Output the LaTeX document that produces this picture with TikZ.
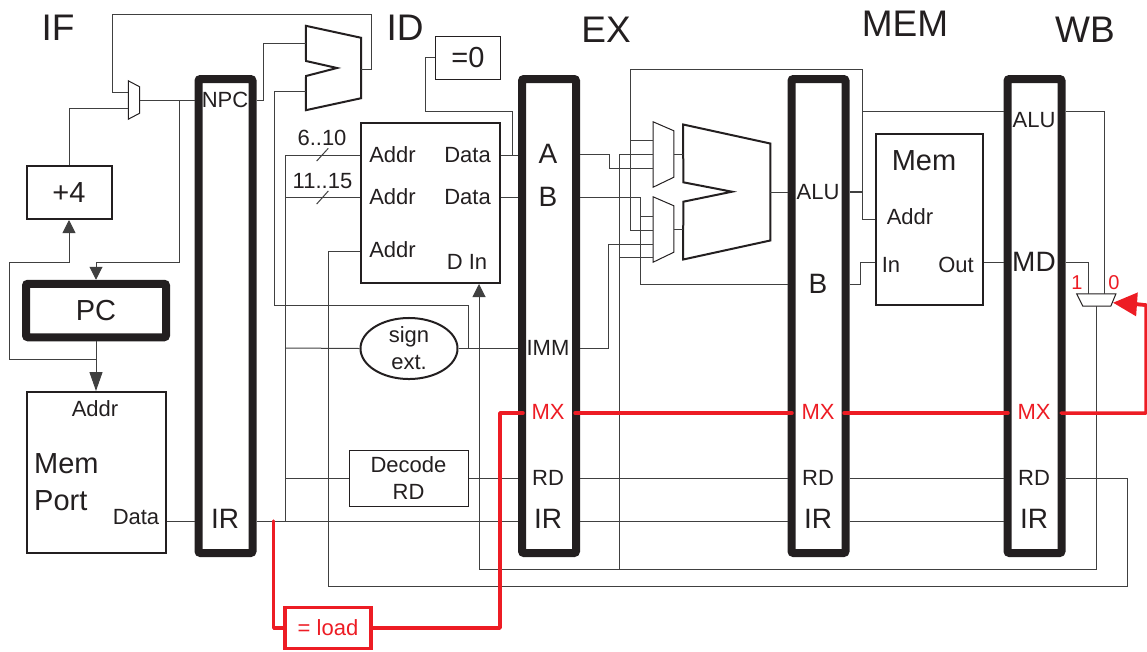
\documentclass[tikz,border=0pt]{standalone}
\usepackage{fontspec}
\setmainfont{Liberation Sans}
\definecolor{inkdark}{HTML}{231F20}
\definecolor{wirecol}{HTML}{404040}
\definecolor{redsig}{HTML}{ED1C24}
\usetikzlibrary{shapes.geometric,arrows.meta,positioning}

\begin{document}
\begin{tikzpicture}[
    x=1pt, y=-1pt,
    every node/.style={text=inkdark, inner sep=0pt},
    small/.style={font=\fontsize{22}{27}\selectfont, align=center},
    big/.style={font=\fontsize{28}{37}\selectfont, align=left},
    stage/.style={font=\fontsize{37}{37}\selectfont},
    latch/.style={rectangle, draw=inkdark, line width=8pt, rounded corners=2pt, minimum width=54pt, minimum height=474pt},
    box/.style={rectangle, draw=inkdark, line width=2pt},
    thinbox/.style={rectangle, draw=inkdark, line width=1pt},
    port/.style={rectangle, minimum width=#1},
    wire/.style={wirecol, line width=1pt},
    arrow/.style={wirecol, line width=1pt, -{Triangle[length=13pt,width=13pt]}},
    longarrow/.style={wirecol, line width=1pt, -{Triangle[length=19pt,width=13pt]}},
    shapeline/.style={inkdark, line width=2pt, line join=miter},
    muxline/.style={inkdark, line width=1pt},
    redwire/.style={redsig, line width=3.5pt, line cap=round, line join=round},
    redbox/.style={rectangle, draw=redsig, text=redsig, line width=3.5pt}
    ]
    \useasboundingbox (0,0) rectangle (1147,651);

    \node[stage] (ifLabel) at (58,28) {IF};
    \node[stage] (idLabel) at (405,28) {ID};
    \node[stage] (exLabel) at (606,30) {EX};
    \node[stage] (memLabel) at (905,24) {MEM};
    \node[stage] (wbLabel) at (1085,30) {WB};

    \node[latch] (ifid) at (225.5,316) {};
    \node[latch] (idex) at (549,316) {};
    \node[latch] (exmem) at (818.5,316) {};
    \node[latch] (memwb) at (1034.5,316) {};

    \node[box, minimum width=85pt, minimum height=53pt] (plusFour) at (69,192.5) {\fontsize{29}{29}\selectfont +4};
    \node[rectangle, draw=inkdark, line width=8pt, rounded corners=2pt, minimum width=140pt, minimum height=53.5pt] (pc) at (96,310.5) {\fontsize{29}{29}\selectfont PC};
    \node[box, minimum width=139pt, minimum height=161pt] (memPort) at (96,472.5) {};
    \node[small] (mpAddr) at (95,409) {Addr};
    \node[font=\fontsize{29}{37}\selectfont, align=left, anchor=west] (mpName) at (34,482) {Mem\\Port};
    \node[small] (mpData) at (136,517) {Data};
    \node[small] (npc) at (225,100) {NPC};
    \node[big] (irOne) at (225,519) {IR};

    \node[thinbox, minimum width=65pt, minimum height=43pt, font=\fontsize{29}{29}\selectfont] (isZero) at (468,57.5) {=0};
    \node[box, minimum width=139pt, minimum height=160pt] (regFile) at (430.5,203) {};
    \node[small] (rfAddrA) at (392.5,155) {Addr};
    \node[small] (rfAddrB) at (392.5,197) {Addr};
    \node[small] (rfAddrC) at (392.5,250) {Addr};
    \node[small] (rfDataA) at (467.5,155) {Data};
    \node[small] (rfDataB) at (467.5,197) {Data};
    \node[small] (rfDin) at (467,262) {D In};
    \node[small] (bitsA) at (322,138) {6..10};
    \node[small] (bitsB) at (322.5,181) {11..15};
    \node[ellipse, draw=inkdark, line width=2pt, minimum width=97pt, minimum height=59pt, small] (signExt) at (409,348.5) {sign\\ext.};
    \node[thinbox, minimum width=119pt, minimum height=56pt, small] (decode) at (408.5,478) {Decode\\RD};

    \node[big] (regA) at (548,154) {A};
    \node[big] (regB) at (548,197) {B};
    \node[small] (regImm) at (548,348) {IMM};
    \node[small, text=redsig] (mxOne) at (548,412) {MX};
    \node[small] (rdOne) at (548,478) {RD};
    \node[big] (irTwo) at (548,519) {IR};

    \node[small] (aluOut) at (818,192) {ALU};
    \node[big] (regBtwo) at (818,284) {B};
    \node[small, text=redsig] (mxTwo) at (818,412) {MX};
    \node[small] (rdTwo) at (818,478) {RD};
    \node[big] (irThree) at (818,519) {IR};

    \node[box, minimum width=107pt, minimum height=171pt] (dataMem) at (929.5,219.5) {};
    \node[font=\fontsize{29}{29}\selectfont] (dmName) at (924,161) {Mem};
    \node[small] (dmAddr) at (910,217) {Addr};
    \node[small] (dmIn) at (891,265) {In};
    \node[small] (dmOut) at (956,265) {Out};

    \node[small] (aluWb) at (1034,120) {ALU};
    \node[big] (mdWb) at (1034,262) {MD};
    \node[small, text=redsig] (mxThree) at (1034,412) {MX};
    \node[small] (rdThree) at (1034,478) {RD};
    \node[big] (irFour) at (1034,519) {IR};

    \node[small, text=redsig, font=\fontsize{20}{20}\selectfont] (wbOne) at (1077,283) {1};
    \node[small, text=redsig, font=\fontsize{20}{20}\selectfont] (wbZero) at (1114,283) {0};
    \node[redbox, minimum width=86pt, minimum height=41pt, font=\fontsize{22}{22}\selectfont] (isLoad) at (328,628) {= load};

    % outlines of the muxes and adders
    \node[port=11pt, minimum height=38pt] (ifMux) at (134,100) {};
    \draw[muxline] (ifMux.north west) -- ([yshift=-6pt]ifMux.north east) -- ([yshift=6pt]ifMux.south east) -- (ifMux.south west) -- cycle;
    \node[port=55pt, minimum height=84pt] (brAdd) at (333.5,68) {};
    \draw[shapeline] (brAdd.north west) -- ([yshift=-12pt]brAdd.north east) -- ([yshift=12pt]brAdd.south east) -- (brAdd.south west) -- (306,76) -- (337,68) -- (306,61) -- cycle;
    \node[port=20.4pt, minimum height=65pt] (muxA) at (663.5,154.5) {};
    \draw[muxline] (muxA.north west) -- ([yshift=-9pt]muxA.north east) -- ([yshift=10pt]muxA.south east) -- (muxA.south west) -- cycle;
    \node[port=20.4pt, minimum height=65pt] (muxB) at (663.5,229.5) {};
    \draw[muxline] (muxB.north west) -- ([yshift=-9pt]muxB.north east) -- ([yshift=10pt]muxB.south east) -- (muxB.south west) -- cycle;
    \node[port=86.7pt, minimum height=134.6pt] (alu) at (726.7,192) {};
    \draw[shapeline] (alu.north west) -- ([yshift=-19pt]alu.north east) -- ([yshift=19pt]alu.south east) -- (alu.south west) -- (683.3,201.7) -- (732,191.7) -- (683.3,182.3) -- cycle;
    \node[port=38.7pt, minimum height=11.7pt] (wbMux) at (1096.3,300) {};
    \draw[muxline] (wbMux.north west) -- (wbMux.north east) -- ([xshift=-5pt]wbMux.south east) -- ([xshift=6pt]wbMux.south west) -- cycle;

    % IF stage
    \coordinate (npcTap) at (179.5,100);
    \coordinate (pcTap) at (96,359);
    \draw[wire] (ifMux.east) -- (ifid.west |- ifMux.east);
    \draw[wire] (ifMux.west |- 0,92) -| (112,14) -| (371,69) -- (brAdd.east |- 0,69);
    \draw[wire] (ifMux.west |- 0,108) -| (plusFour.north);
    \draw[arrow] (npcTap) |- (96,262) -- (pc.north);
    \draw[arrow] (pcTap) -| (9.5,262) -| (plusFour.south);
    \draw[longarrow] (pc.south) -- (memPort.north);
    \draw[wire] (memPort.east |- 0,521) -- (ifid.west |- 0,521);

    % ID stage
    \coordinate (irTap) at (285,521);
    \coordinate (immTap) at (468,348);
    \draw[wire] (ifid.east |- 0,100) -| (263,43) -- (brAdd.west |- 0,43);
    \draw[wire] (immTap) |- (274,305) |- (brAdd.west |- 0,91);
    \draw[wire] (ifid.east |- 0,521) -- (idex.west |- 0,521);
    \draw[wire] (irTap) |- (regFile.west |- 0,155);
    \draw[wire] (285,197.5) -- (regFile.west |- 0,197.5);
    \draw[wire] (285,348) -- (signExt.west);
    \draw[wire] (285,478) -- (decode.west);
    \draw[wire] (signExt.east) -- (idex.west |- signExt.east);
    \draw[wire] (decode.east) -- (idex.west |- decode.east);
    \draw[wire] (regFile.east |- 0,155) -- (idex.west |- 0,155);
    \draw[wire] (regFile.east |- 0,197) -- (idex.west |- 0,197);
    \draw[wire] (isZero.west) -| (425,111) -| (512,155);
    \draw[wire] (316.7,161) -- (328.3,148.3);
    \draw[wire] (316.7,204) -- (328.3,191);

    % EX stage
    \draw[wire] (idex.east |- 0,154) -| (609.7,168) -- (muxA.west |- 0,168);
    \draw[wire] (idex.east |- 0,197) -| (640.7,284) -- (exmem.west |- 0,284);
    \draw[wire] (640.7,216) -- (muxB.west |- 0,216);
    \draw[wire] (idex.east |- 0,348) -| (608,244) -- (muxB.west |- 0,244);
    \draw[wire] (muxA.west |- 0,140) -| (630,69) -| (862,219) -- (dataMem.west |- 0,219);
    \draw[wire] (630,140) |- (muxB.west |- 0,230);
    \draw[wire] (muxA.west |- 0,154.7) -| (619,569);
    \draw[wire] (619,257) -- (muxB.west |- 0,257);
    \draw[wire] (muxA.east) -- (alu.west |- muxA.east);
    \draw[wire] (muxB.east) -- (alu.west |- muxB.east);
    \draw[wire] (alu.east) -- (exmem.west |- alu.east);
    \draw[wire] (idex.east |- 0,478) -- (exmem.west |- 0,478);
    \draw[wire] (idex.east |- 0,521) -- (exmem.west |- 0,521);

    % MEM stage
    \draw[wire, line width=1.5pt] (exmem.east |- 0,192) -- (862,192);
    \draw[wire] (exmem.east |- 0,284) -| (860.7,262) -- (dataMem.west |- 0,262);
    \draw[wire] (862,111) -- (memwb.west |- 0,111);
    \draw[wire] (dataMem.east |- 0,262) -- (memwb.west |- 0,262);
    \draw[wire] (exmem.east |- 0,478) -- (memwb.west |- 0,478);
    \draw[wire] (exmem.east |- 0,521) -- (memwb.west |- 0,521);

    % WB stage
    \draw[wire] (memwb.east |- 0,111) -| (1104.5,294);
    \draw[wire] (memwb.east |- 0,262) -| (1088.5,294);
    \draw[wire] (wbMux.south) |- (479,569);
    \draw[arrow] (479,569) -- (regFile.south -| 479,0);
    \draw[wire] (memwb.east |- 0,478) -| (1127,586) -| (328,251) -- (regFile.west |- 0,251);

    % load hazard signal
    \coordinate (muxSel) at (1113,302.7);
    \draw[redwire] (273.7,521) |- (isLoad.west);
    \draw[redwire] (isLoad.east) -| (500,413) -- (523,413);
    \draw[redwire] (575,413) -- (792,413);
    \draw[redwire] (844,413) -- (1008,413);
    \draw[redwire] (1061,413) -- (1146,413) -- (1146,305) -- (1135,304);
    \draw[redsig, line width=3.5pt, -{Triangle[length=24pt,width=23pt]}] (1146,305) -- (muxSel);
\end{tikzpicture}
\end{document}
